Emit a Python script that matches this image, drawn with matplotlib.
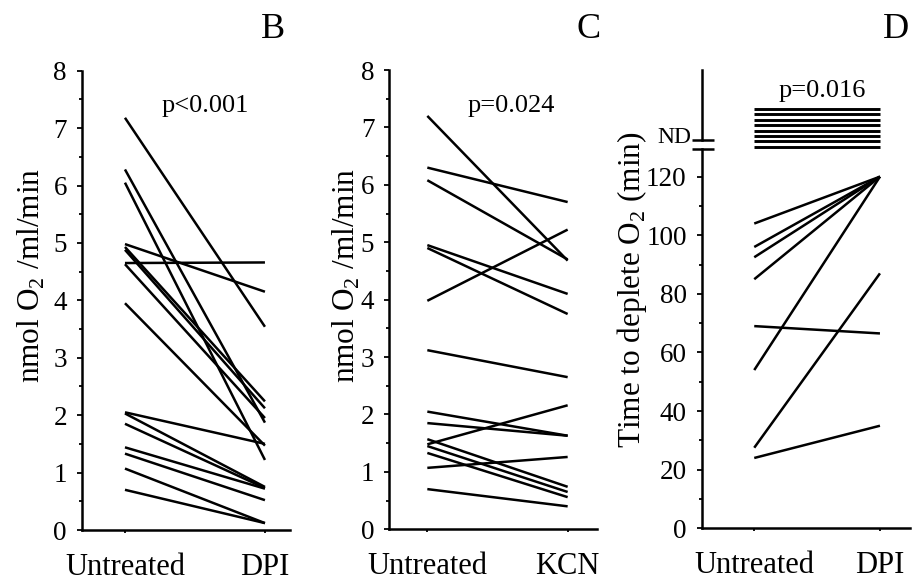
import numpy as np
import matplotlib
matplotlib.use('Agg')
import matplotlib.pyplot as plt
import matplotlib.transforms as mtransforms
from matplotlib.ticker import MultipleLocator

plt.rcParams['font.family'] = 'Liberation Serif'
plt.rcParams['mathtext.fontset'] = 'custom'
plt.rcParams['mathtext.rm'] = 'Liberation Serif'

W, H = 915, 581

# --- data ---
B_untreated = [7.18, 6.28, 6.05, 4.98, 4.65, 4.93, 4.88, 4.63, 3.95, 2.05, 2.03, 1.85, 1.44, 1.33, 1.07, 0.70]
B_dpi       = [3.54, 1.87, 1.22, 4.15, 4.66, 2.24, 2.12, 1.95, 1.47, 1.50, 0.75, 0.73, 0.72, 0.52, 0.12, 0.12]

C_untreated = [7.20, 6.30, 6.08, 4.95, 4.90, 3.98, 3.12, 2.05, 1.85, 1.48, 1.57, 1.45, 1.33, 1.07, 0.70]
C_kcn       = [4.68, 5.70, 4.70, 4.10, 3.75, 5.22, 2.65, 1.63, 1.63, 2.16, 0.74, 0.65, 0.56, 1.26, 0.40]

D_untreated = [104, 96, 92.5, 85, 54, 69, 27.5, 24]
D_dpi       = [120, 120, 120, 120, 120, 66.5, 87, 35]
D_nd_levels = [143.1, 141.3, 139.4, 137.6, 135.7, 133.9, 132.1, 130.1]  # samples not depleted (ND)

B_labels = ['Untreated', 'DPI']
C_labels = ['Untreated', 'KCN']
D_labels = ['Untreated', 'DPI']

LW = 1.8


def px_axes(left, right, top, bottom):
    return [left / W, 1 - bottom / H, (right - left) / W, (bottom - top) / H]


def style_axis(ax, labels):
    for s in ['top', 'right']:
        ax.spines[s].set_visible(False)
    for s in ['left', 'bottom']:
        ax.spines[s].set_linewidth(1.8)
    ax.set_xticks([0, 1])
    ax.set_xticklabels(labels, fontsize=22)
    ax.tick_params(axis='x', direction='out', length=2.5, width=1.3, pad=14)
    ax.tick_params(axis='y', which='major', direction='out', length=3.8, width=1.3,
                   pad=7, labelsize=19.5)
    ax.tick_params(axis='y', which='minor', direction='out', length=2.4, width=1.3)


def pair_lines(ax, before, after, lw=LW):
    for a, b in zip(before, after):
        ax.plot([0, 1], [a, b], color='black', lw=lw, solid_capstyle='butt')


fig = plt.figure(figsize=(W / 100, H / 100), dpi=100)

# Panel B
axB = fig.add_axes(px_axes(82, 290, 70.7, 530))
pair_lines(axB, B_untreated, B_dpi)
axB.set_xlim(-0.307, 1.179)
axB.set_ylim(0, 8)
axB.yaxis.set_major_locator(MultipleLocator(1))
axB.yaxis.set_minor_locator(MultipleLocator(0.5))
style_axis(axB, B_labels)

# Panel C
axC = fig.add_axes(px_axes(389.3, 596.7, 70, 529.3))
pair_lines(axC, C_untreated, C_kcn)
axC.set_xlim(-0.271, 1.207)
axC.set_ylim(0, 8)
axC.yaxis.set_major_locator(MultipleLocator(1))
axC.yaxis.set_minor_locator(MultipleLocator(0.5))
style_axis(axC, C_labels)

# Panel D (broken y axis with ND rows)
axD = fig.add_axes(px_axes(701.7, 910, 70, 528.3))
pair_lines(axD, D_untreated, D_dpi)
for lev in D_nd_levels:
    axD.plot([0, 1], [lev, lev], color='black', lw=2.1, solid_capstyle='butt')
axD.set_xlim(-0.418, 1.239)
axD.set_ylim(0, 156.4)
axD.set_yticks([0, 20, 40, 60, 80, 100, 120])
axD.yaxis.set_minor_locator(matplotlib.ticker.FixedLocator([10, 30, 50, 70, 90, 110]))
style_axis(axD, D_labels)
axD.spines['left'].set_bounds(0, 129.4)
trans = mtransforms.blended_transform_factory(axD.transAxes, axD.transData)
axD.plot([0, 0], [132.5, 156.4], transform=trans, color='black', lw=1.8, clip_on=False)
for yb in [129.4, 132.5]:
    axD.plot([-0.048, 0.061], [yb, yb], transform=trans, color='black', lw=1.8,
             clip_on=False, solid_capstyle='butt')
axD.text(-0.05, 133.3, 'ND', transform=trans, ha='right', va='center', fontsize=17)


def ftext(x, y, s, **kw):
    fig.text(x / W, 1 - y / H, s, ha='center', va='center', **kw)


# y labels
ftext(31, 275, 'nmol O$_2$ /ml/min', rotation=90, fontsize=22.5)
ftext(346.5, 275, 'nmol O$_2$ /ml/min', rotation=90, fontsize=22.5)
ftext(632, 290, 'Time to deplete O$_2$ (min)', rotation=90, fontsize=22.5)

# p-values
ftext(205.5, 106, 'p<0.001', fontsize=19)
ftext(511, 106, 'p=0.024', fontsize=19)
ftext(822, 91.5, 'p=0.016', fontsize=19)

# panel letters
ftext(273, 30, 'B', fontsize=26)
ftext(589, 30, 'C', fontsize=26)
ftext(896, 30, 'D', fontsize=26)

fig.savefig('out.png', dpi=100)
